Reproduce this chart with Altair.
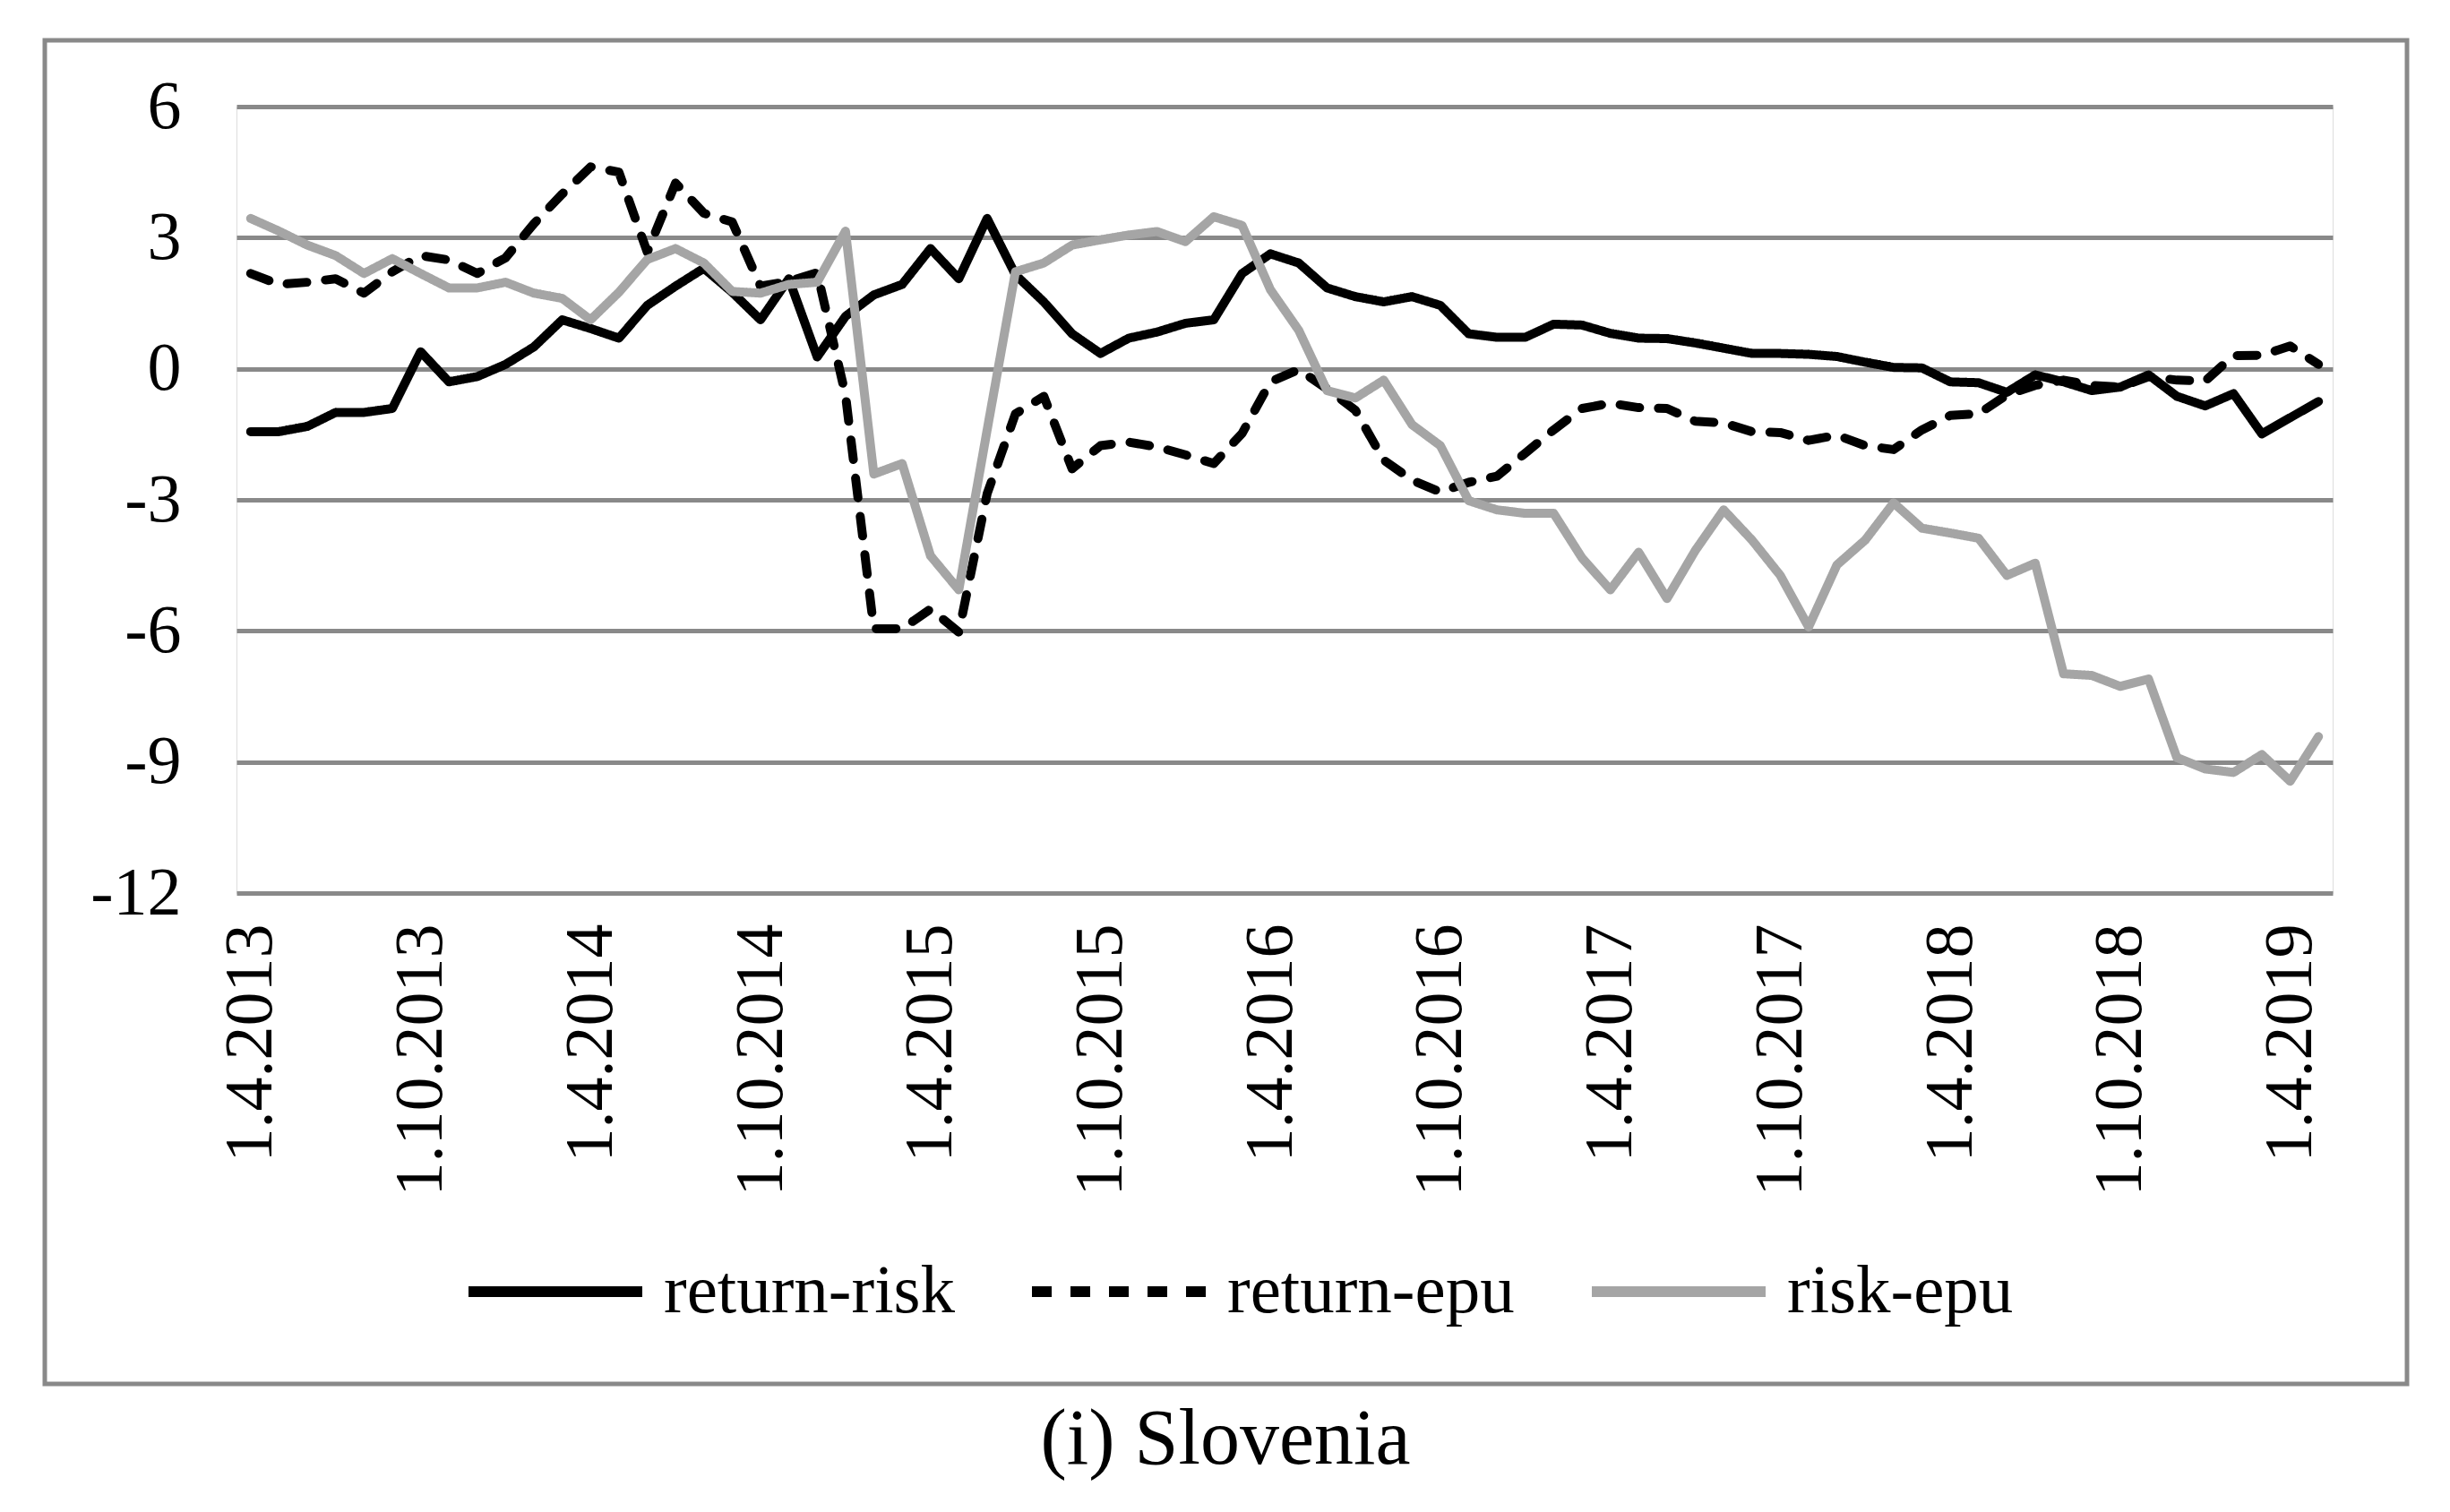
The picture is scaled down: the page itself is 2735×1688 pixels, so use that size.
import altair as alt
import pandas as pd

# Monthly categories 1.4.2013 ... 1.5.2019
MONTHS = [f"1.{m}.{y}" for y in range(2013, 2020) for m in range(1, 13)]
MONTHS = MONTHS[MONTHS.index("1.4.2013"):MONTHS.index("1.5.2019") + 1]

TICK_LABELS = ["1.4.2013", "1.10.2013", "1.4.2014", "1.10.2014", "1.4.2015",
               "1.10.2015", "1.4.2016", "1.10.2016", "1.4.2017", "1.10.2017",
               "1.4.2018", "1.10.2018", "1.4.2019"]

Y_TICKS = [-12, -9, -6, -3, 0, 3, 6]

SERIES = ["return-risk", "return-epu", "risk-epu"]

RETURN_RISK = [-1.44, -1.44, -1.32, -1.00, -1.00, -0.91, 0.39, -0.30, -0.18, 0.10,
               0.50, 1.12, 0.92, 0.70, 1.45, 1.89, 2.30, 1.75, 1.12, 2.06,
               0.27, 1.20, 1.69, 1.93, 2.75, 2.06, 3.44, 2.15, 1.53, 0.80,
               0.35, 0.70, 0.84, 1.04, 1.12, 2.18, 2.63, 2.42, 1.85, 1.65,
               1.53, 1.65, 1.45, 0.80, 0.72, 0.72, 1.02, 1.00, 0.81, 0.70,
               0.69, 0.59, 0.47, 0.35, 0.35, 0.33, 0.28, 0.15, 0.03, 0.02,
               -0.30, -0.32, -0.54, -0.14, -0.30, -0.50, -0.42, -0.14, -0.63, -0.85,
               -0.57, -1.49, -1.12, -0.75]

RETURN_EPU = [2.18, 1.93, 1.98, 2.06, 1.73, 2.22, 2.59, 2.49, 2.18, 2.54,
              3.32, 4.00, 4.62, 4.50, 2.67, 4.25, 3.56, 3.36, 1.89, 2.00,
              2.20, -0.60, -5.95, -5.95, -5.50, -6.03, -2.86, -1.03, -0.63, -2.29,
              -1.76, -1.68, -1.79, -1.97, -2.17, -1.48, -0.30, -0.02, -0.46, -0.95,
              -2.09, -2.55, -2.82, -2.60, -2.46, -1.93, -1.40, -0.91, -0.79, -0.89,
              -0.91, -1.20, -1.24, -1.44, -1.46, -1.64, -1.52, -1.76, -1.85, -1.40,
              -1.07, -1.03, -0.60, -0.38, -0.26, -0.38, -0.42, -0.18, -0.26, -0.28,
              0.30, 0.31, 0.52, 0.10]

RISK_EPU = [3.44, 3.15, 2.83, 2.59, 2.18, 2.52, 2.18, 1.85, 1.85, 1.98,
            1.73, 1.61, 1.12, 1.75, 2.50, 2.75, 2.42, 1.77, 1.73, 1.93,
            1.98, 3.15, -2.41, -2.17, -4.28, -5.06, -1.40, 2.22, 2.42, 2.83,
            2.95, 3.06, 3.14, 2.91, 3.48, 3.28, 1.81, 0.88, -0.50, -0.67,
            -0.26, -1.28, -1.76, -3.02, -3.23, -3.31, -3.31, -4.33, -5.06, -4.20,
            -5.26, -4.16, -3.23, -3.92, -4.73, -5.91, -4.49, -3.92, -3.07, -3.65,
            -3.76, -3.88, -4.73, -4.45, -6.98, -7.02, -7.27, -7.10, -8.90, -9.16,
            -9.24, -8.83, -9.44, -8.42]

rows = []
for name, vals in zip(SERIES, [RETURN_RISK, RETURN_EPU, RISK_EPU]):
    for m, v in zip(MONTHS, vals):
        rows.append({"month": m, "value": v, "series": name})
df = pd.DataFrame(rows)

FONT = "Liberation Serif"
GRID = "#898989"

legend_kw = dict(
    title=None, orient="none", legendX=253, legendY=1220,
    direction="horizontal", columns=3, columnPadding=62,
    symbolType="stroke", symbolSize=194 * 194, symbolStrokeWidth=12,
    labelFont=FONT, labelFontSize=77, labelColor="black",
    labelOffset=18, labelLimit=0, symbolOpacity=1,
)

lines = alt.Chart(df).mark_line(strokeWidth=10, strokeCap="round", strokeJoin="round").encode(
    x=alt.X("month:O", sort=MONTHS, title=None,
            scale=alt.Scale(type="point", padding=0.5),
            axis=alt.Axis(values=TICK_LABELS, labelAngle=-90, labelFont=FONT,
                          labelFontSize=76, labelColor="black", labelPadding=34,
                          labelLimit=0, domain=False, ticks=False, grid=False,
                          labelOverlap=False, labelBound=False)),
    y=alt.Y("value:Q", title=None,
            scale=alt.Scale(domain=[-12, 6], nice=False, zero=False),
            axis=alt.Axis(values=Y_TICKS, labelExpr="'' + datum.value",
                          labelFont=FONT, labelFontSize=76, labelColor="black",
                          labelPadding=62, domain=False, ticks=False,
                          gridColor=GRID, gridWidth=5, gridOpacity=1)),
    color=alt.Color("series:N", sort=SERIES,
                    scale=alt.Scale(domain=SERIES, range=["#000000", "#000000", "#A5A5A5"]),
                    legend=alt.Legend(**legend_kw)),
    strokeDash=alt.StrokeDash("series:N", sort=SERIES,
                              scale=alt.Scale(domain=SERIES, range=[[1, 0], [22, 21], [1, 0]]),
                              legend=alt.Legend(**legend_kw)),
)

frame = alt.Chart(pd.DataFrame({"a": [0]})).mark_rect(
    filled=False, stroke=GRID, strokeWidth=5
).encode(
    x=alt.value(-214), x2=alt.value(2423),
    y=alt.value(-74), y2=alt.value(1426),
)

chart = alt.layer(frame, lines).properties(
    width=2340, height=878,
    autosize=alt.AutoSizeParams(type="none"),
    padding={"left": 256, "top": 111, "right": 120, "bottom": 670},
    title=alt.TitleParams("(i) Slovenia", orient="bottom", font=FONT, fontSize=88,
                          fontWeight="normal", color="black", offset=16, dx=-66),
).configure_view(stroke=None).configure(background="white")

chart.save("out.html", embed_options={"renderer": "svg", "actions": False})
